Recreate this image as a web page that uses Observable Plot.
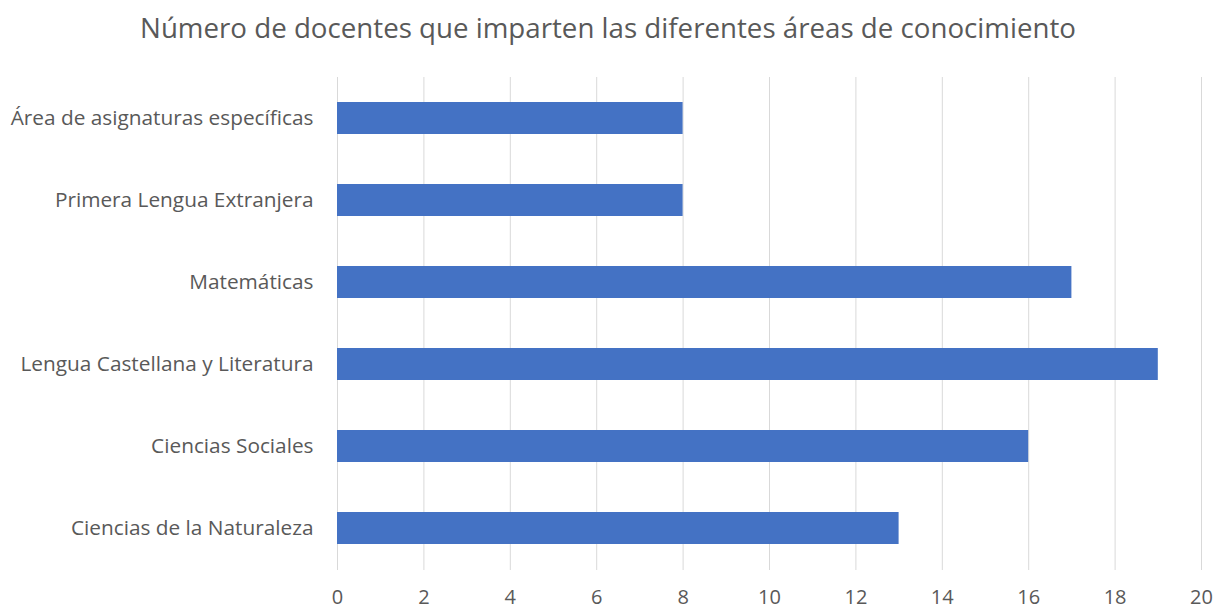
<!DOCTYPE html>
<html>
<head>
<meta charset="utf-8">
<script src="https://cdn.jsdelivr.net/npm/d3@7"></script>
<script src="https://cdn.jsdelivr.net/npm/@observablehq/plot@0.6"></script>
<style>
  html, body { margin: 0; padding: 0; background: #fff; }
  #wrap { width: 1216px; height: 612px; font-family: "Open Sans", sans-serif; }
  #title { height: 56px; line-height: 54px; text-align: center; font-size: 27.7px; color: #595959; }
</style>
</head>
<body>
<div id="wrap">
  <div id="title">Número de docentes que imparten las diferentes áreas de conocimiento</div>
  <div id="chart"></div>
</div>
<script>
const areas = [
  "Área de asignaturas específicas",
  "Primera Lengua Extranjera",
  "Matemáticas",
  "Lengua Castellana y Literatura",
  "Ciencias Sociales",
  "Ciencias de la Naturaleza"
];
const docentes = [8, 8, 17, 19, 16, 13];
const xTicks = [0, 2, 4, 6, 8, 10, 12, 14, 16, 18, 20];

const data = areas.map((a, i) => ({area: a, value: docentes[i]}));

const plot = Plot.plot({
  width: 1216,
  height: 556,
  marginTop: 21,
  marginBottom: 42,
  marginLeft: 337,
  marginRight: 15,
  style: {fontFamily: "'Open Sans', sans-serif", fontSize: "20.8px", color: "#595959", background: "#fff"},
  x: {domain: [0, 20], ticks: xTicks, label: null},
  y: {domain: areas, label: null, paddingInner: 0.606, paddingOuter: 0.303},
  marks: [
    Plot.gridX(xTicks, {stroke: "#d9d9d9", strokeOpacity: 1, strokeWidth: 1}),
    Plot.barX(data, {x: "value", y: "area", fill: "#4472C4"}),
    Plot.axisX({ticks: xTicks, tickSize: 0, tickPadding: 19, fontSize: 20, fill: "#595959"}),
    Plot.axisY({tickSize: 0, tickPadding: 24, fontSize: 20.8, fill: "#595959"})
  ]
});
document.getElementById("chart").appendChild(plot);
</script>
</body>
</html>
